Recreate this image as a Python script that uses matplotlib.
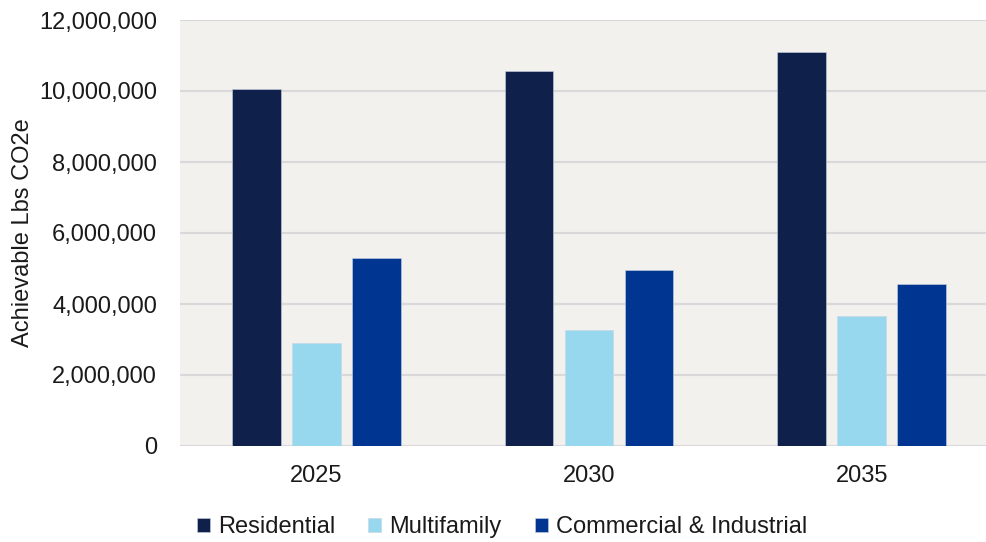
import numpy as np
import matplotlib.pyplot as plt
from matplotlib.ticker import FuncFormatter

plt.rcParams['font.family'] = ['Liberation Sans', 'DejaVu Sans']

# achievable reductions by sector
years = ['2025', '2030', '2035']
residential = [10050000, 10570000, 11090000]
multifamily = [2910000, 3280000, 3660000]
commercial = [5300000, 4960000, 4550000]

series = [('Residential', residential, '#0f214a'),
          ('Multifamily', multifamily, '#97d8ef'),
          ('Commercial & Industrial', commercial, '#003591')]

fig = plt.figure(figsize=(9.87, 5.42), dpi=100)
ax = fig.add_axes([180/987, 1 - 446/542, (998 - 180)/987, (446 - 20)/542])
ax.set_facecolor('#f2f1ee')

x = np.arange(len(years))
w = 0.178
step = 0.22
for k, (name, vals, col) in enumerate(series):
    ax.bar(x + (k - 1)*step, vals, w, color=col, label=name,
           edgecolor='#c9d3e3', linewidth=0.4, zorder=3)

ax.set_xlim(-0.5, 2.5)
ax.set_ylim(0, 12000000)
ax.set_yticks(np.arange(0, 12000001, 2000000))
ax.yaxis.set_major_formatter(FuncFormatter(lambda v, p: f'{int(v):,}'))
ax.set_xticks(x)
ax.set_xticklabels(years)
ax.grid(axis='y', color='#d9d9d9', linewidth=1.5, zorder=0)
ax.set_axisbelow(True)
for s in ax.spines.values():
    s.set_visible(False)
ax.tick_params(length=0, labelsize=17, colors='#1a1a1a')
ax.tick_params(axis='y', pad=16.5)
ax.tick_params(axis='x', pad=14)
ax.set_ylabel('Achievable Lbs CO2e', fontsize=17, color='#1a1a1a', labelpad=4)

fig.legend(loc='center', bbox_to_anchor=(502/987, 1 - 527/542), ncol=3,
           frameon=False, fontsize=17, handlelength=0.55, handleheight=0.55,
           handletextpad=0.35, columnspacing=1.4, labelcolor='#1a1a1a')

fig.savefig('out.png', dpi=100)
